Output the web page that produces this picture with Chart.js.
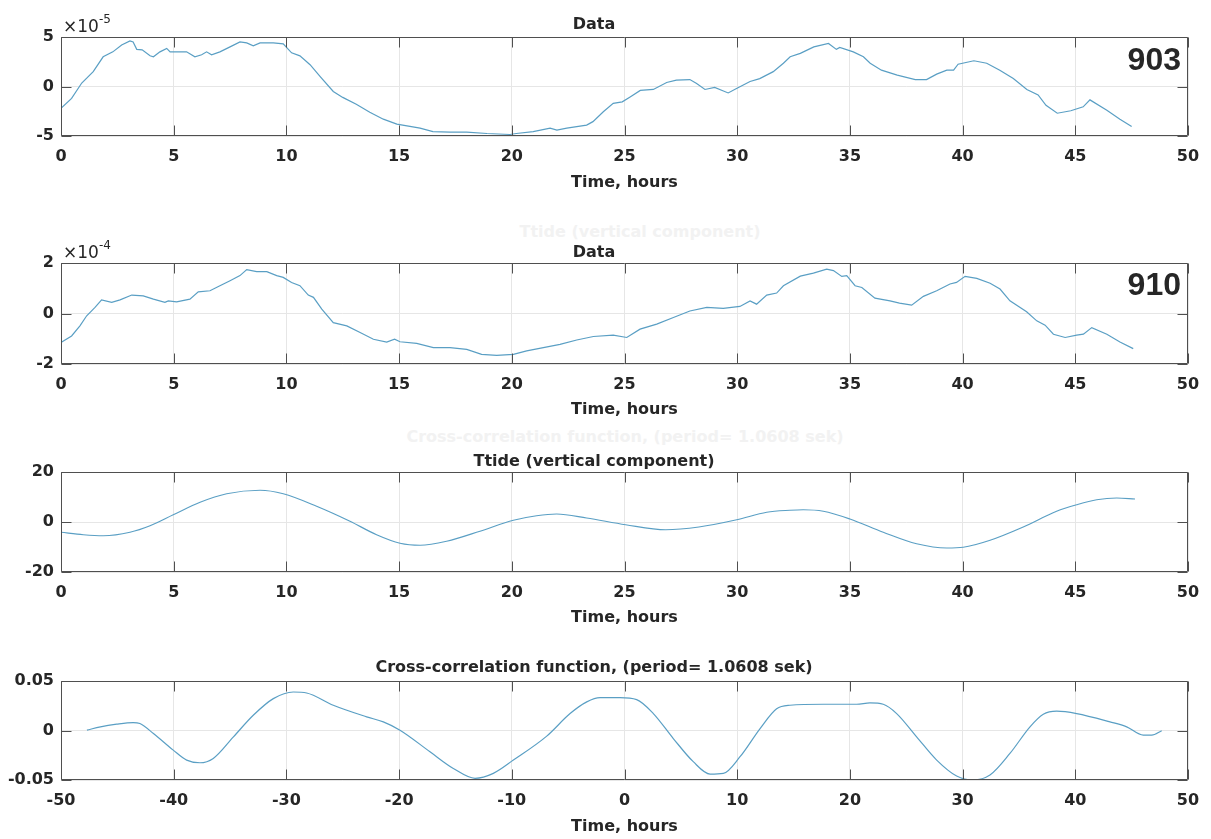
<!DOCTYPE html>
<html>
<head>
<meta charset="utf-8">
<script src="https://cdn.jsdelivr.net/npm/chart.js@4.4.1/dist/chart.umd.min.js"></script>
<style>
  html, body { margin: 0; padding: 0; background: #fff; }
  #page { position: relative; width: 1211px; height: 839px; overflow: hidden; }
  .band { position: absolute; left: 0; width: 1211px; }
  .ghost { position: absolute; font: bold 16px "DejaVu Sans", sans-serif; color: #f2f2f2; white-space: nowrap; transform: translateX(-50%); }
</style>
</head>
<body>
<div id="page">
  <!-- faint bleed-through captions visible in the source -->
  <div class="ghost" style="left:640px;top:222px">Ttide (vertical component)</div>
  <div class="ghost" style="left:625px;top:427px">Cross-correlation function, (period= 1.0608 sek)</div>
  <div class="band" style="top:0px;height:200px"><canvas id="c903" width="1211" height="200"></canvas></div>
  <div class="band" style="top:200px;height:220px"><canvas id="c910" width="1211" height="220"></canvas></div>
  <div class="band" style="top:420px;height:220px"><canvas id="cTide" width="1211" height="220"></canvas></div>
  <div class="band" style="top:640px;height:199px"><canvas id="cCorr" width="1211" height="199"></canvas></div>
</div>
<script>
//
// Data
//

// Sensor 903, values x 1e-5
var time903 = [0, 0.47, 0.92, 1.43, 1.87, 2.3, 2.69, 3.06, 3.2, 3.36, 3.6, 3.95, 4.1, 4.39, 4.69, 4.84,
	5.28, 5.57, 5.94, 6.24, 6.46, 6.68, 7.05, 7.5, 7.94, 8.24, 8.53, 8.83, 9.42, 9.86, 10.23, 10.6,
	11.05, 11.5, 12.08, 12.5, 13.1, 13.7, 14.3, 14.9, 15.93, 16.5, 17.26, 18.0, 18.9, 19.92, 20.2,
	20.95, 21.7, 22.0, 22.44, 23.32, 23.6, 24.06, 24.5, 24.9, 25.25, 25.7, 26.28, 26.87, 27.3, 27.9,
	28.2, 28.57, 29.0, 29.6, 29.97, 30.57, 31.0, 31.6, 32.05, 32.35, 32.8, 33.4, 34.05, 34.4, 34.55,
	35.15, 35.6, 35.9, 36.4, 37.1, 37.9, 38.4, 38.85, 39.3, 39.6, 39.8, 40.5, 41.07, 41.65, 42.25,
	42.85, 43.35, 43.7, 44.2, 44.8, 45.35, 45.65, 46.4, 46.98, 47.5];
var data903 = [-2.2, -1.2, 0.35, 1.5, 3.0, 3.5, 4.2, 4.6, 4.5, 3.75, 3.7, 3.1, 3.0, 3.5, 3.85, 3.5,
	3.5, 3.5, 3.0, 3.2, 3.5, 3.2, 3.5, 4.0, 4.5, 4.4, 4.1, 4.4, 4.4, 4.3, 3.4, 3.1,
	2.2, 1.0, -0.5, -1.1, -1.8, -2.6, -3.3, -3.8, -4.2, -4.55, -4.6, -4.6, -4.75, -4.85, -4.75,
	-4.55, -4.2, -4.4, -4.2, -3.9, -3.55, -2.55, -1.7, -1.55, -1.05, -0.4, -0.3, 0.4, 0.65, 0.7,
	0.3, -0.3, -0.1, -0.65, -0.2, 0.5, 0.8, 1.5, 2.35, 3.0, 3.35, 4.0, 4.35, 3.75, 3.95,
	3.5, 3.0, 2.35, 1.65, 1.15, 0.7, 0.7, 1.25, 1.65, 1.65, 2.25, 2.6, 2.35, 1.65, 0.8,
	-0.3, -0.85, -1.9, -2.7, -2.45, -2.05, -1.35, -2.4, -3.3, -4.05];

// Sensor 910, values x 1e-4
var time910 = [0, 0.47, 0.84, 1.14, 1.51, 1.8, 2.25, 2.62, 3.14, 3.65, 4.1, 4.61, 4.76, 5.13, 5.72,
	6.09, 6.61, 7.05, 7.5, 7.94, 8.24, 8.68, 9.13, 9.57, 9.86, 10.23, 10.6, 10.97, 11.2, 11.57,
	12.08, 12.68, 13.27, 13.86, 14.45, 14.8, 15.04, 15.78, 16.52, 17.26, 18.0, 18.66, 19.33, 20.07,
	20.66, 21.4, 22.14, 22.88, 23.62, 24.5, 25.1, 25.69, 26.43, 27.17, 27.9, 28.65, 29.38, 30.12,
	30.57, 30.86, 31.31, 31.75, 32.05, 32.8, 33.38, 33.97, 34.27, 34.64, 34.86, 35.23, 35.53,
	36.11, 36.78, 37.2, 37.74, 38.26, 38.85, 39.44, 39.73, 40.11, 40.63, 41.22, 41.66, 42.1,
	42.84, 43.29, 43.66, 44.03, 44.55, 45.06, 45.36, 45.73, 46.4, 46.98, 47.57];
var data910 = [-1.15, -0.89, -0.49, -0.09, 0.24, 0.54, 0.44, 0.54, 0.73, 0.7, 0.57, 0.44, 0.5, 0.46, 0.57,
	0.86, 0.9, 1.1, 1.3, 1.5, 1.74, 1.66, 1.66, 1.5, 1.43, 1.23, 1.1, 0.73, 0.64, 0.17,
	-0.36, -0.49, -0.75, -1.02, -1.13, -1.02, -1.12, -1.18, -1.35, -1.35, -1.42, -1.62, -1.66, -1.62,
	-1.48, -1.35, -1.22, -1.05, -0.91, -0.86, -0.95, -0.62, -0.42, -0.16, 0.1, 0.24, 0.2, 0.28,
	0.5, 0.37, 0.73, 0.81, 1.1, 1.48, 1.6, 1.76, 1.7, 1.47, 1.5, 1.1, 1.03,
	0.61, 0.5, 0.41, 0.33, 0.68, 0.9, 1.17, 1.23, 1.47, 1.39, 1.2, 0.97, 0.5,
	0.07, -0.29, -0.46, -0.82, -0.95, -0.86, -0.82, -0.56, -0.82, -1.13, -1.39];

// Ttide, vertical component
var timeTide = [0, 0.99, 1.88, 3.06, 3.95, 4.98, 6.17, 7.35, 8.83, 9.86, 11.34, 12.82, 14.0, 15.04,
	15.93, 17.11, 18.59, 20.07, 21.1, 21.99, 23.32, 25.05, 26.83, 28.3, 29.98, 31.31, 32.34, 32.93,
	33.82, 35.0, 36.48, 37.96, 39.3, 40.03, 41.22, 42.69, 44.17, 45.06, 45.95, 46.84, 47.65];
var dataTide = [-4.1, -5.1, -5.5, -4.1, -1.5, 2.9, 7.9, 11.3, 12.7, 11.3, 6.3, 0.3, -5.1, -8.5,
	-9.3, -7.7, -3.7, 0.7, 2.5, 3.2, 1.6, -1.1, -3.1, -2.0, 0.9, 3.9, 4.7, 4.9,
	4.3, 1.2, -4.1, -8.7, -10.4, -10.1, -7.3, -2.0, 4.3, 6.9, 8.9, 9.6, 9.2];

// Cross-correlation
var lagCorr = [-47.7, -46.5, -45.06, -43.6, -43.0, -41.8, -40.04, -38.85, -37.67, -36.49, -34.7,
	-32.94, -31.16, -29.39, -28.2, -25.84, -22.88, -21.4, -19.92, -17.26, -15.19, -13.26, -11.64,
	-9.86, -6.9, -4.83, -3.35, -2.17, -0.4, 1.08, 2.56, 4.33, 6.1, 7.59, 8.77, 10.25, 12.03, 13.5,
	14.68, 17.64, 20.6, 21.78, 22.96, 24.15, 25.92, 27.7, 29.47, 30.95, 32.43, 34.2, 35.98, 37.16,
	38.35, 40.12, 43.08, 44.56, 46.03, 46.78, 47.67];
var dataCorr = [0.0003, 0.0037, 0.0064, 0.008, 0.007, -0.003, -0.0198, -0.0299, -0.0326, -0.0282, -0.0064,
	0.0154, 0.0322, 0.0389, 0.0379, 0.0255, 0.0138, 0.0087, 0.0003, -0.0215, -0.0383, -0.0483, -0.0433,
	-0.0299, -0.0057, 0.0171, 0.0289, 0.0332, 0.0332, 0.0312, 0.0171, -0.0081, -0.0315, -0.044, -0.0433, -0.0265, 0.002, 0.022,
	0.0255, 0.0265, 0.0265, 0.0279, 0.0265, 0.0171, -0.0064, -0.0299, -0.046, -0.05, -0.045, -0.0232, 0.0037, 0.0164,
	0.0195, 0.0171, 0.0087, 0.0037, -0.0047, -0.0047, -0.0003];

// Axes
var timeTicks = { min: 0, max: 50, step: 5 };
var lagTicks = { min: -50, max: 50, step: 10 };

//
// Styling
//

var FONT = '"DejaVu Sans", "Liberation Sans", Arial, sans-serif';
var TAG_FONT = '"Liberation Sans", Arial, Helvetica, sans-serif';
var LINE = '#5a9fc4';
var INK = '#262626';
var GRID = '#e6e6e6';
var BOX = '#4f4f4f';

Chart.defaults.font.family = FONT;
Chart.defaults.color = INK;

// MATLAB-ish box: frame, inward tick marks, exponent, tag
var matlabBox = {
	id: 'matlabBox',
	afterDraw: function(chart, args, opts) {
		var ctx = chart.ctx, a = chart.chartArea;
		var sx = chart.scales.x, sy = chart.scales.y;
		var L = Math.round(a.left) + 0.5, R = Math.round(a.right) - 0.5;
		var T = Math.round(a.top) + 0.5, B = Math.round(a.bottom) - 0.5;
		ctx.save();
		ctx.strokeStyle = BOX;
		ctx.lineWidth = 1;
		ctx.beginPath();
		sx.ticks.forEach(function(t) {
			var px = Math.round(sx.getPixelForValue(t.value)) + 0.5;
			ctx.moveTo(px, B); ctx.lineTo(px, B - 10);
			ctx.moveTo(px, T); ctx.lineTo(px, T + 10);
		});
		sy.ticks.forEach(function(t) {
			var py = Math.round(sy.getPixelForValue(t.value)) + 0.5;
			ctx.moveTo(L, py); ctx.lineTo(L + 10, py);
			ctx.moveTo(R, py); ctx.lineTo(R - 10, py);
		});
		ctx.rect(L, T, R - L, B - T);
		ctx.stroke();

		ctx.fillStyle = INK;
		if (opts.exponent) {
			ctx.font = '17px ' + FONT;
			ctx.textBaseline = 'alphabetic';
			ctx.textAlign = 'left';
			ctx.fillText('\u00d710', a.left + 2, a.top - 5);
			var w = ctx.measureText('\u00d710').width;
			ctx.font = '12px ' + FONT;
			ctx.fillText(opts.exponent, a.left + 2 + w, a.top - 14);
		}
		if (opts.tag) {
			ctx.font = 'bold 32px ' + TAG_FONT;
			ctx.textAlign = 'right';
			ctx.textBaseline = 'middle';
			ctx.fillText(opts.tag, a.right - 7, a.top + opts.tagDy);
		}
		ctx.restore();
	}
};

function pairs(xs, ys) {
	return xs.map(function(x, i) { return { x: x, y: ys[i] }; });
}

function makePlot(id, o) {
	var bandH = document.getElementById(id).height;
	return new Chart(document.getElementById(id), {
		type: 'line',
		data: {
			datasets: [{
				data: pairs(o.xs, o.ys),
				borderColor: LINE,
				borderWidth: 1.2,
				pointRadius: 0,
				tension: o.smooth ? 0.4 : 0,
				cubicInterpolationMode: o.smooth ? 'monotone' : 'default',
				fill: false
			}]
		},
		options: {
			responsive: false,
			animation: false,
			events: [],
			layout: { padding: { top: o.padTop, right: 23, bottom: 0, left: 0 } },
			plugins: {
				legend: { display: false },
				tooltip: { enabled: false },
				title: {
					display: true,
					text: o.title,
					color: INK,
					font: { size: 16, weight: 'bold' },
					padding: { top: 0, bottom: o.titleGap }
				},
				matlabBox: { exponent: o.exponent, tag: o.tag, tagDy: o.tagDy }
			},
			scales: {
				x: {
					type: 'linear',
					min: o.xt.min, max: o.xt.max,
					ticks: { stepSize: o.xt.step, padding: 11, maxRotation: 0, font: { size: 16, weight: 'bold' }, color: INK },
					grid: { color: GRID, drawTicks: false },
					border: { display: false },
					title: { display: true, text: 'Time, hours', color: INK, font: { size: 16, weight: 'bold' }, padding: { top: 0, bottom: o.xlabGap } },
					afterFit: function(s) { s.height = bandH - o.bottom; }
				},
				y: {
					min: o.yt.min, max: o.yt.max,
					ticks: { stepSize: o.yt.step, padding: 7, font: { size: 16, weight: 'bold' }, color: INK, callback: o.yfmt },
					grid: { color: GRID, drawTicks: false },
					border: { display: false },
					afterFit: function(s) { s.width = 61; }
				}
			}
		},
		plugins: [matlabBox]
	});
}

function intLabel(v) { return String(Math.round(v)); }

makePlot('c903', {
	xs: time903, ys: data903, title: 'Data', xt: timeTicks,
	yt: { min: -5, max: 5, step: 5 }, yfmt: intLabel,
	padTop: 15.4, titleGap: 2.4, bottom: 136, xlabGap: 7.4,
	exponent: '-5', tag: '903', tagDy: 24
});

makePlot('c910', {
	xs: time910, ys: data910, title: 'Data', xt: timeTicks,
	yt: { min: -2, max: 2, step: 2 }, yfmt: intLabel,
	padTop: 43.4, titleGap: 0.4, bottom: 164, xlabGap: 0.4,
	exponent: '-4', tag: '910', tagDy: 23
});

makePlot('cTide', {
	xs: timeTide, ys: dataTide, title: 'Ttide (vertical component)', xt: timeTicks,
	yt: { min: -20, max: 20, step: 20 }, yfmt: intLabel, smooth: true,
	padTop: 32.4, titleGap: 0.4, bottom: 152, xlabGap: 12.4
});

makePlot('cCorr', {
	xs: lagCorr, ys: dataCorr, title: 'Cross-correlation function, (period= 1.0608 sek)', xt: lagTicks,
	yt: { min: -0.05, max: 0.05, step: 0.05 }, smooth: true,
	yfmt: function(v) { return Math.abs(v) < 1e-9 ? '0' : v.toFixed(2); },
	padTop: 18.4, titleGap: 3.4, bottom: 140, xlabGap: 2.4
});
</script>
</body>
</html>
